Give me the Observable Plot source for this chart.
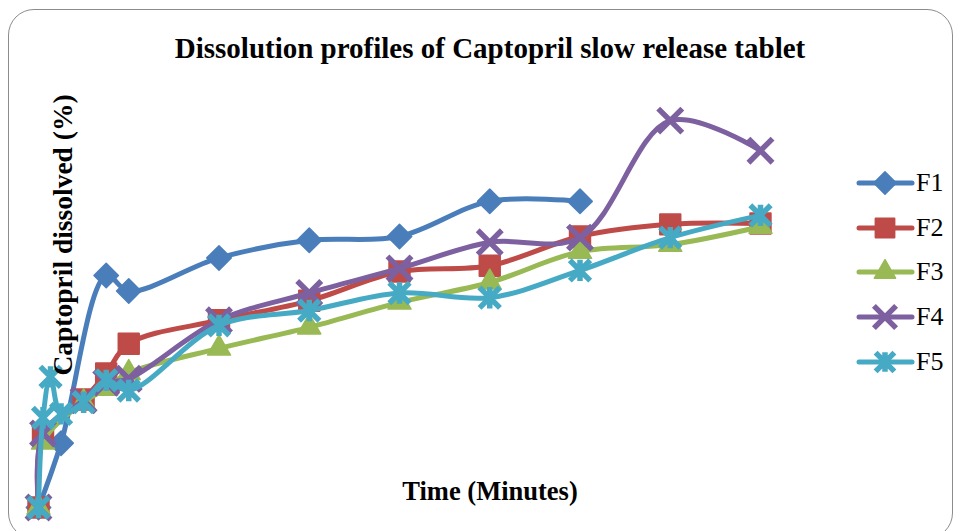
<!DOCTYPE html>
<html>
<head>
<meta charset="utf-8">
<script src="https://cdn.jsdelivr.net/npm/d3@7"></script>
<script src="https://cdn.jsdelivr.net/npm/@observablehq/plot@0.6"></script>
<style>
  html, body { margin: 0; padding: 0; background: #fff; }
  #wrap { position: relative; width: 960px; height: 531px; overflow: hidden; font-family: "Liberation Serif", "Times New Roman", serif; }
  #frame { position: absolute; left: 8px; top: 9px; width: 945px; height: 530px; border: 1.5px solid #8c8c8c; border-radius: 26px; box-sizing: border-box; }
  #chart { position: absolute; left: 0; top: 0; }
  .title { position: absolute; left: 0; width: 980px; top: 31px; text-align: center; font-weight: bold; font-size: 29px; line-height: 34px; color: #000; }
  .xlabel { position: absolute; left: 0; width: 980px; top: 476px; text-align: center; font-weight: bold; font-size: 26.5px; line-height: 31px; color: #000; }
  .ylabel { position: absolute; left: 62px; top: 235px; transform: translate(-50%, -50%) rotate(-90deg); white-space: nowrap; font-weight: bold; font-size: 27.5px; line-height: 31px; color: #000; }
  #legend { position: absolute; left: 856px; top: 0; }
  .lg { position: absolute; left: 0; height: 30px; width: 100px; }
  .lg svg { position: absolute; left: 0; top: 0; }
  .lg span { position: absolute; left: 60px; top: 0px; font-size: 26px; line-height: 30px; color: #000; }
</style>
</head>
<body>
<div id="wrap">
  <div id="frame"></div>
  <div id="chart"></div>
  <div class="title">Dissolution profiles of Captopril slow release tablet</div>
  <div class="ylabel">Captopril dissolved (%)</div>
  <div class="xlabel">Time (Minutes)</div>
  <div id="legend"></div>
</div>
<script>
// Time points (minutes)
const times = [0, 3, 8, 15, 30, 45, 60, 120, 180, 240, 300, 360, 420, 480];
// Series names
const seriesNames = ["F1", "F2", "F3", "F4", "F5"];
// Percent dissolved; null = no point
const F1 = [0, null, null, 16.5, null, 59.5, 55.5, 64, 68.5, 69.5, 78.5, 78.5, null, null];
const F2 = [0, 18.5, null, null, 27.7, 34.4, 42, 48, 53, 60.5, 62, 69.5, 72.6, 72.8];
const F3 = [0, 16.7, null, null, 27.0, 30.5, 34.5, 40.8, 46.2, 52.6, 57.7, 65.6, 67.4, 72];
const F4 = [0, 19, null, null, 27.5, 32, 33, 48, 55, 61.3, 68, 69.2, 99.2, 91.5];
const F5 = [0, 23, 33.5, 24, 27, 32.6, 30, 46.7, 50.5, 55, 53.8, 60.8, 69.2, 74.9];
const seriesValues = [F1, F2, F3, F4, F5];

const colors = ["#4A7EBB", "#BE4B48", "#98B954", "#7D60A0", "#46AAC5"];

// Custom star marker (X with vertical bar), like Excel's star marker
const starSymbol = {
  draw(ctx, size) {
    const r = Math.sqrt(size) * 0.5;
    ctx.moveTo(-r, -r); ctx.lineTo(r, r);
    ctx.moveTo(r, -r); ctx.lineTo(-r, r);
    ctx.moveTo(0, -r * 1.05); ctx.lineTo(0, r * 1.05);
  }
};
const styles = [
  {symbol: "diamond2", r: 11, fill: true, sw: 1.5},
  {symbol: "square2", r: 13, fill: true, sw: 2},
  {symbol: "triangle2", r: 11, fill: true, sw: 1.5},
  {symbol: "times", r: 11, fill: false, sw: 5.5},
  {symbol: starSymbol, r: 11.5, fill: false, sw: 5.5}
];

const rows = seriesNames.flatMap((name, i) =>
  times.map((t, j) => ({series: name, t, v: seriesValues[i][j]})).filter(d => d.v != null)
);

const marks = [];
seriesNames.forEach((name, i) => {
  const data = rows.filter(d => d.series === name);
  const st = styles[i];
  marks.push(Plot.line(data, {x: "t", y: "v", stroke: colors[i], strokeWidth: 5, curve: "catmull-rom", strokeLinejoin: "round", strokeLinecap: "round"}));
  marks.push(Plot.dot(data, {
    x: "t", y: "v", symbol: st.symbol, r: st.r,
    fill: st.fill ? colors[i] : "none",
    stroke: colors[i], strokeWidth: st.sw,
    strokeLinejoin: "round", strokeLinecap: "butt"
  }));
});

const chart = Plot.plot({
  width: 960,
  height: 531,
  marginLeft: 38,
  marginRight: 200,
  marginTop: 117,
  marginBottom: 24,
  style: {background: "transparent", overflow: "visible"},
  x: {domain: [0, 480], axis: null},
  y: {domain: [0, 100], axis: null},
  marks
});
document.getElementById("chart").appendChild(chart);

// Legend
const legendTops = [168, 213, 257, 302, 347];
const legend = document.getElementById("legend");
const symTypes = [d3.symbolDiamond2, d3.symbolSquare2, d3.symbolTriangle2, d3.symbolTimes, starSymbol];
seriesNames.forEach((name, i) => {
  const st = styles[i];
  const div = document.createElement("div");
  div.className = "lg";
  div.style.top = legendTops[i] + "px";
  const svg = d3.create("svg").attr("width", 60).attr("height", 30);
  svg.append("line").attr("x1", 3).attr("x2", 56).attr("y1", 15).attr("y2", 15)
    .attr("stroke", colors[i]).attr("stroke-width", 5).attr("stroke-linecap", "round");
  svg.append("path")
    .attr("transform", "translate(29,15)")
    .attr("d", d3.symbol().type(symTypes[i]).size(Math.PI * st.r * st.r * 0.85)())
    .attr("fill", st.fill ? colors[i] : "none")
    .attr("stroke", colors[i]).attr("stroke-width", st.sw).attr("stroke-linejoin", "round");
  div.appendChild(svg.node());
  const span = document.createElement("span");
  span.textContent = name;
  div.appendChild(span);
  legend.appendChild(div);
});
</script>
</body>
</html>
